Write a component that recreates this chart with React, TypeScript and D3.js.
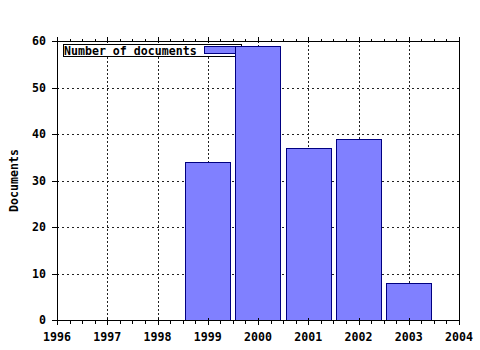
import React from "react";
import * as d3 from "d3";

const years = [1999, 2000, 2001, 2002, 2003];
const documents = [34, 59, 37, 39, 8];
const xTicks = [1996, 1997, 1998, 1999, 2000, 2001, 2002, 2003, 2004];
const yTicks = [0, 10, 20, 30, 40, 50, 60];
const seriesName = "Number of documents";
const yTitle = "Documents";

const W = 480, H = 350;
const left = 57, right = 459, top = 41, bottom = 320;
const FONT = "'DejaVu Sans Mono', monospace";
const FILL = "#8080ff";
const STROKE = "#000080";

export default function App() {
  const x = d3.scaleLinear().domain([1996, 2004]).range([left, right]);
  const y = d3.scaleLinear().domain([0, 60]).range([bottom, top]);
  const minor = d3.range(1996, 2004.01, 0.25);
  const bw = x(1996.9) - x(1996);
  return (
    <svg width={W} height={H} style={{ position: "absolute", left: 0, top: 0, background: "#fff" }}>
      <rect x={0} y={0} width={W} height={H} fill="#fff" />
      {/* grid */}
      <g stroke="#222" strokeWidth={1} shapeRendering="crispEdges">
        {xTicks.slice(1, -1).map((t) => (
          <line key={"gx" + t} strokeDasharray="2,2" x1={Math.round(x(t)) + 0.5} x2={Math.round(x(t)) + 0.5} y1={top} y2={bottom} />
        ))}
        {yTicks.slice(1, -1).map((t) => (
          <line key={"gy" + t} strokeDasharray="2,3" x1={left} x2={right} y1={Math.round(y(t)) + 0.5} y2={Math.round(y(t)) + 0.5} />
        ))}
      </g>
      {/* legend */}
      <g>
        <rect x={63.5} y={44.5} width={178} height={12} fill="#fff" stroke="#000" shapeRendering="crispEdges" />
        <text x={64} y={54.5} fontFamily={FONT} fontWeight="bold" fontSize={11.6} fill="#000">{seriesName}</text>
        <rect x={204.5} y={46.5} width={37} height={7} fill={FILL} stroke={STROKE} shapeRendering="crispEdges" />
      </g>
      {/* bars */}
      {years.map((yr, i) => (
        <rect
          key={yr}
          x={Math.round(x(yr) - bw / 2) + 0.5}
          y={Math.round(y(documents[i])) + 0.5}
          width={Math.round(bw)}
          height={Math.round(y(0)) - Math.round(y(documents[i]))}
          fill={FILL}
          stroke={STROKE}
          strokeWidth={1}
          shapeRendering="crispEdges"
        />
      ))}
      {/* frame */}
      <g stroke="#000" strokeWidth={1} shapeRendering="crispEdges" fill="none">
        <line x1={left + 0.5} x2={left + 0.5} y1={top - 2} y2={bottom + 1} />
        <line x1={left} x2={right + 1} y1={bottom + 0.5} y2={bottom + 0.5} />
        <line x1={left} x2={right + 1} y1={top + 0.5} y2={top + 0.5} />
        <line x1={right + 0.5} x2={right + 0.5} y1={top} y2={bottom + 1} />
        {minor.map((t) => (
          <g key={"m" + t}>
            <line x1={Math.round(x(t)) + 0.5} x2={Math.round(x(t)) + 0.5} y1={bottom} y2={bottom + 4} />
            <line x1={Math.round(x(t)) + 0.5} x2={Math.round(x(t)) + 0.5} y1={top - 2} y2={top} />
          </g>
        ))}
        {xTicks.map((t) => (
          <g key={"M" + t}>
            <line x1={Math.round(x(t)) + 0.5} x2={Math.round(x(t)) + 0.5} y1={bottom - 2} y2={bottom + 5} />
            <line x1={Math.round(x(t)) + 0.5} x2={Math.round(x(t)) + 0.5} y1={top - 4} y2={top + 2} />
          </g>
        ))}
        {yTicks.map((t) => (
          <line key={"yt" + t} x1={left - 5} x2={left + 2} y1={Math.round(y(t)) + 0.5} y2={Math.round(y(t)) + 0.5} />
        ))}
      </g>
      {/* tick labels */}
      <g fontFamily={FONT} fontWeight="bold" fontSize={11.6} fill="#000">
        {xTicks.map((t) => (
          <text key={"xl" + t} x={x(t)} y={341} textAnchor="middle">{t}</text>
        ))}
        {yTicks.map((t) => (
          <text key={"yl" + t} x={46} y={y(t) + 4} textAnchor="end">{t}</text>
        ))}
        <text transform={`translate(18,${(top + bottom) / 2}) rotate(-90)`} textAnchor="middle">{yTitle}</text>
      </g>
    </svg>
  );
}
